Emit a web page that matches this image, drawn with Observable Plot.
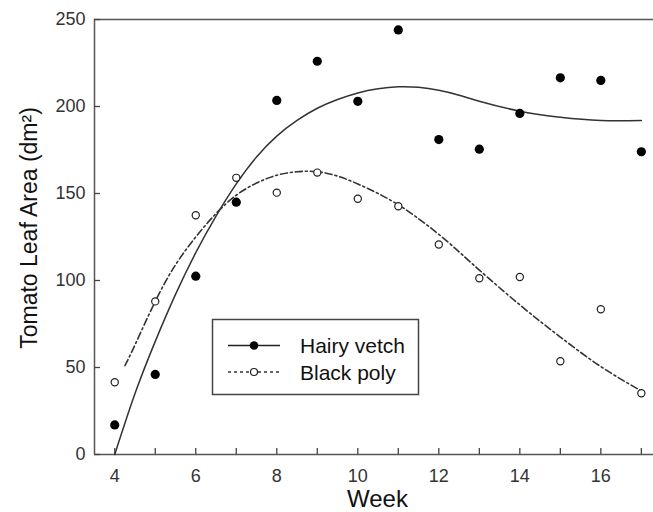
<!DOCTYPE html>
<html>
<head>
<meta charset="utf-8">
<script src="https://cdn.jsdelivr.net/npm/d3@7"></script>
<script src="https://cdn.jsdelivr.net/npm/@observablehq/plot@0.6"></script>
<style>
  body { margin: 0; background: #fff; }
  #wrap { position: relative; width: 653px; height: 512px; font-family: "Liberation Sans", Arial, sans-serif; }
  #legend { position: absolute; left: 0; top: 0; pointer-events: none; }
</style>
</head>
<body>
<div id="wrap"></div>
<script>
// ---- data ----
const weeks = [4, 5, 6, 7, 8, 9, 10, 11, 12, 13, 14, 15, 16, 17];
const hairyVetch = [17, 46, 102.5, 145, 203.5, 226, 203, 244, 181, 175.5, 196, 216.5, 215, 174];
const blackPoly = [41.5, 88, 137.5, 159, 150.5, 162, 147, 142.7, 120.7, 101.3, 102, 53.6, 83.5, 35.2];

// fitted curves as drawn in the reference
const hvFitWeeks = [4, 4.5, 5, 5.5, 6, 6.5, 7, 7.5, 8, 8.5, 9, 9.5, 10, 10.5, 11, 11.5, 12, 12.5, 13, 14, 15, 16, 17];
const hvFit = [0, 35, 65, 92, 116, 137, 155.5, 171, 183, 192, 199, 204, 207.8, 210.2, 211.3, 211, 209.3, 206.5, 203, 197.3, 193.8, 192, 192];
const bpFitWeeks = [4.25, 4.5, 5, 5.5, 6, 6.5, 7, 7.5, 8, 8.5, 9, 9.5, 10, 10.5, 11, 11.5, 12, 12.5, 13, 14, 15, 16, 17];
const bpFit = [51, 63, 88, 109, 125, 138.5, 149, 156, 160.5, 162.5, 162.5, 160, 155.5, 150, 143.5, 135.5, 126.5, 116.5, 106, 86, 67.5, 50.5, 36.5];

const xTicks = [4, 5, 6, 7, 8, 9, 10, 11, 12, 13, 14, 15, 16, 17];
const xLabels = [4, 6, 8, 10, 12, 14, 16];
const yTicks = [0, 50, 100, 150, 200, 250];
const xDomain = [3.5, 17.3];
const yDomain = [0, 250];
const seriesNames = ["Hairy vetch", "Black poly"];
const xTitle = "Week";
const yTitle = "Tomato Leaf Area (dm\u00B2)";

const hv = weeks.map((w, i) => ({week: w, value: hairyVetch[i]}));
const bp = weeks.map((w, i) => ({week: w, value: blackPoly[i]}));
const hvLine = hvFitWeeks.map((w, i) => ({week: w, value: hvFit[i]}));
const bpLine = bpFitWeeks.map((w, i) => ({week: w, value: bpFit[i]}));

const font = "'Liberation Sans', Arial, sans-serif";
const W = 653, H = 512, ML = 94, MT = 19, MB = 58, MR = 0;
const frameW = W - ML - MR, frameH = H - MT - MB, tickLen = 6;

const chart = Plot.plot({
  width: W,
  height: H,
  marginLeft: ML,
  marginTop: MT,
  marginBottom: MB,
  marginRight: MR,
  style: {fontFamily: font, background: "#fff"},
  x: {domain: xDomain},
  y: {domain: yDomain},
  marks: [
    Plot.ruleX([xDomain[0]], {stroke: "#555", strokeWidth: 1.5}),
    Plot.ruleY(yDomain, {stroke: "#555", strokeWidth: 1.5}),
    // inward ticks
    Plot.ruleX(xTicks, {insetTop: frameH - tickLen, stroke: "#444", strokeWidth: 1.3}),
    Plot.ruleY(yTicks, {insetRight: frameW - tickLen, stroke: "#444", strokeWidth: 1.3}),
    Plot.axisX({ticks: xLabels, tickSize: 0, tickPadding: 15, fontSize: 18, fill: "#333", label: null}),
    Plot.axisY({ticks: yTicks, tickSize: 0, tickPadding: 9, fontSize: 18, fill: "#333", label: null}),
    Plot.line(hvLine, {x: "week", y: "value", curve: "natural", stroke: "#333", strokeWidth: 1.5}),
    Plot.line(bpLine, {x: "week", y: "value", curve: "natural", stroke: "#333", strokeWidth: 1.6, strokeDasharray: "7,3,2,3"}),
    Plot.dot(hv, {x: "week", y: "value", r: 4.6, fill: "#000", stroke: "none"}),
    Plot.dot(bp, {x: "week", y: "value", r: 3.6, fill: "#fff", stroke: "#222", strokeWidth: 1.2}),
    Plot.text([yTitle], {frameAnchor: "left", textAnchor: "middle", lineAnchor: "middle", rotate: -90, dx: -65, dy: -9, fontSize: 23, fill: "#111"}),
    Plot.text([xTitle], {frameAnchor: "bottom", textAnchor: "middle", lineAnchor: "middle", dx: 3.5, dy: 45, fontSize: 24, fill: "#111"})
  ]
});

const wrap = document.getElementById("wrap");
wrap.appendChild(chart);

// legend overlay
const ns = "http://www.w3.org/2000/svg";
const lg = document.createElementNS(ns, "svg");
lg.setAttribute("id", "legend");
lg.setAttribute("width", W);
lg.setAttribute("height", H);
lg.innerHTML = `
  <rect x="212.5" y="319.5" width="206" height="75" fill="#fff" stroke="#444" stroke-width="1.5"/>
  <line x1="228" x2="280" y1="345.5" y2="345.5" stroke="#222" stroke-width="1.5"/>
  <circle cx="254" cy="345.5" r="4.3" fill="#000"/>
  <line x1="228" x2="280" y1="372" y2="372" stroke="#333" stroke-width="1.4" stroke-dasharray="3,3"/>
  <circle cx="254" cy="372" r="3.5" fill="#fff" stroke="#222" stroke-width="1.2"/>
  <text x="300" y="345.5" dominant-baseline="central" font-size="21" font-family="${font}" fill="#111">${seriesNames[0]}</text>
  <text x="300" y="372" dominant-baseline="central" font-size="21" font-family="${font}" fill="#111">${seriesNames[1]}</text>
`;
wrap.appendChild(lg);
</script>
</body>
</html>
